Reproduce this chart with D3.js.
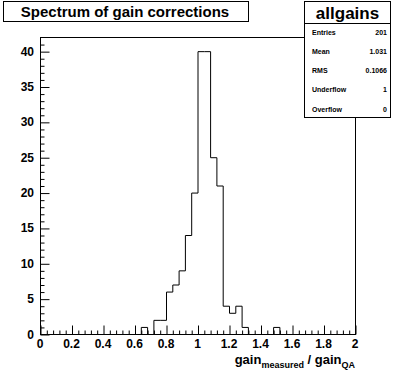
<!DOCTYPE html>
<html>
<head>
<meta charset="utf-8">
<script src="https://cdn.jsdelivr.net/npm/d3@7"></script>
<style>
  body { margin: 0; background: #fff; }
  svg { display: block; font-family: "Liberation Sans", Arial, sans-serif; }
</style>
</head>
<body>
<div id="chart"></div>
<script>
// histogram: 50 bins of 0.04 from 0 to 2
var binEdges = d3.range(0, 51).map(function(i) { return +(i * 0.04).toFixed(2) });
var counts = [
  0,0,0,0,0,0,0,0,0,0,
  0,0,0,0,0,0,1,0,2,2,
  6,7,9,14,20,40,40,25,21,4,
  3,4,1,0,0,0,0,1,0,0,
  0,0,0,0,0,0,0,0,0,0
];
var xTicks = [0, 0.2, 0.4, 0.6, 0.8, 1, 1.2, 1.4, 1.6, 1.8, 2];
var yTicks = [0, 5, 10, 15, 20, 25, 30, 35, 40];
var statNames = ["Entries", "Mean", "RMS", "Underflow", "Overflow"];
var statValues = ["201", "1.031", "0.1066", "1", "0"];

var width = 396, height = 372;
var margin = {top: 37, right: 41, bottom: 38, left: 40};

var svg = d3.select("#chart").append("svg")
  .attr("width", width)
  .attr("height", height);

var x = d3.scaleLinear()
  .domain([0, 2])
  .range([margin.left, width - margin.right]);

var y = d3.scaleLinear()
  .domain([0, 42])
  .range([height - margin.bottom, margin.top]);

// frame
svg.append("rect")
  .attr("x", x(0) + 0.5)
  .attr("y", y(42) + 0.5)
  .attr("width", x(2) - x(0))
  .attr("height", y(0) - y(42))
  .attr("fill", "none")
  .attr("stroke", "black");

// x axis, ticks every 0.04, major every 0.2
var xAxis = d3.axisBottom(x)
  .tickValues(d3.range(0, 51).map(function(i) { return i * 0.04 }))
  .tickSize(0)
  .tickFormat("");
var gx = svg.append("g")
  .attr("transform", "translate(0.5," + (y(0) + 0.5) + ")")
  .call(xAxis);
gx.select(".domain").remove();
gx.selectAll(".tick line")
  .attr("stroke", "black")
  .attr("y2", function(d, i) { return i % 5 == 0 ? -9 : -4 });

svg.append("g").selectAll("text")
  .data(xTicks)
  .join("text")
  .attr("x", function(d) { return x(d) })
  .attr("y", y(0) + 14)
  .attr("text-anchor", "middle")
  .attr("font-size", 12)
  .attr("font-weight", "bold")
  .text(function(d) { return d });

// y axis, ticks every 1, major every 5
var yAxis = d3.axisLeft(y)
  .tickValues(d3.range(0, 42))
  .tickSize(0)
  .tickFormat("");
var gy = svg.append("g")
  .attr("transform", "translate(" + (x(0) + 0.5) + ",0.5)")
  .call(yAxis);
gy.select(".domain").remove();
gy.selectAll(".tick line")
  .attr("stroke", "black")
  .attr("x2", function(d) { return d % 5 == 0 ? 9 : 4 });

svg.append("g").selectAll("text")
  .data(yTicks)
  .join("text")
  .attr("x", x(0) - 6)
  .attr("y", function(d) { return y(d) + 4.5 })
  .attr("text-anchor", "end")
  .attr("font-size", 12)
  .attr("font-weight", "bold")
  .text(function(d) { return d });

// histogram outline
var line = d3.line()
  .x(function(d) { return x(d[0]) + 0.5 })
  .y(function(d) { return y(d[1]) + 0.5 })
  .curve(d3.curveStepAfter);
var pts = counts.map(function(c, i) { return [binEdges[i], c] });
pts.push([binEdges[50], counts[49]]);
svg.append("path")
  .datum(pts)
  .attr("fill", "none")
  .attr("stroke", "black")
  .attr("stroke-width", 1)
  .attr("d", line);

// title box
svg.append("rect")
  .attr("x", 3.5).attr("y", 1.5)
  .attr("width", 245).attr("height", 20)
  .attr("fill", "white").attr("stroke", "black");
svg.append("text")
  .attr("x", 125).attr("y", 17)
  .attr("text-anchor", "middle")
  .attr("font-size", 15)
  .attr("font-weight", "bold")
  .text("Spectrum of gain corrections");

// stats box
svg.append("rect")
  .attr("x", 304.5).attr("y", 1.5)
  .attr("width", 86).attr("height", 116)
  .attr("fill", "white").attr("stroke", "black");
svg.append("line")
  .attr("x1", 304.5).attr("x2", 390.5)
  .attr("y1", 23.5).attr("y2", 23.5)
  .attr("stroke", "black");
svg.append("text")
  .attr("x", 347.5).attr("y", 19)
  .attr("text-anchor", "middle")
  .attr("font-size", 17)
  .attr("font-weight", "bold")
  .text("allgains");

var rows = svg.append("g").selectAll("g")
  .data(statNames)
  .join("g")
  .attr("transform", function(d, i) { return "translate(0," + (34.5 + i * 19.3) + ")" });
rows.append("text")
  .attr("x", 312)
  .attr("font-size", 7)
  .attr("font-weight", "bold")
  .text(function(d) { return d });
rows.append("text")
  .attr("x", 387)
  .attr("text-anchor", "end")
  .attr("font-size", 7)
  .attr("font-weight", "bold")
  .text(function(d, i) { return statValues[i] });

// x axis title with subscripts
var xt = svg.append("text")
  .attr("x", x(2))
  .attr("y", 364)
  .attr("text-anchor", "end")
  .attr("font-size", 13)
  .attr("font-weight", "bold");
xt.append("tspan").text("gain");
xt.append("tspan").attr("font-size", 9).attr("dy", 4).text("measured");
xt.append("tspan").attr("dy", -4).text(" / gain");
xt.append("tspan").attr("font-size", 9).attr("dy", 4).text("QA");
</script>
</body>
</html>
